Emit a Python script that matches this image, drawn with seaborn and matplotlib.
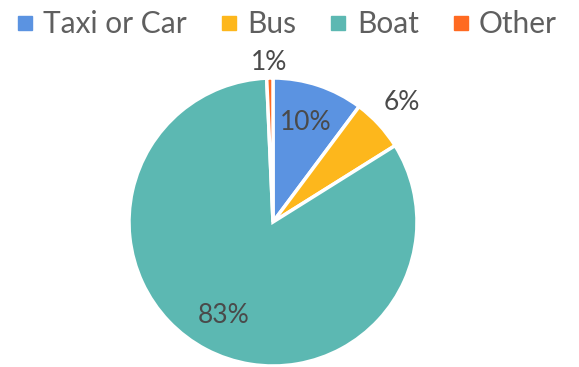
import numpy as np
import matplotlib
matplotlib.use("Agg")
import matplotlib.pyplot as plt
from matplotlib.lines import Line2D
import seaborn as sns

categories = ["Taxi or Car", "Bus", "Boat", "Other"]
values = [10.2, 5.9, 83.2, 0.7]
colors = ["#5B93E1", "#FDB71C", "#5CB8B2", "#FF6A21"]

sns.set_theme(style="white")
plt.rcParams['font.family'] = ['Lato', 'DejaVu Sans']

W, H = 579, 367
fig = plt.figure(figsize=(W / 100, H / 100), dpi=100)
cx, cy, r = 273, 145, 144
ax = fig.add_axes([(cx - r) / W, (cy - r) / H, 2 * r / W, 2 * r / H])

wedges, texts, autotexts = ax.pie(
    values, colors=colors, startangle=90, counterclock=False,
    autopct=lambda p: f"{p:.0f}%", pctdistance=0.73,
    wedgeprops=dict(edgecolor="white", linewidth=2.5),
    textprops=dict(color="#4a4a4a", fontsize=19))
ax.set_xlim(-1, 1)
ax.set_ylim(-1, 1)
ax.set_aspect("equal")
ax.axis("off")

# move small slices' labels outside
outside = {1: 1.22, 3: 1.11}
for i, w in enumerate(wedges):
    if i in outside:
        ang = np.deg2rad((w.theta1 + w.theta2) / 2)
        d = outside[i]
        autotexts[i].set_position((d * np.cos(ang), d * np.sin(ang)))

handles = [Line2D([0], [0], marker="s", linestyle="", markersize=10,
                  markerfacecolor=c, markeredgecolor=c) for c in colors]
fig.legend(handles, categories, loc="upper center", bbox_to_anchor=(0.493, 1.045),
           ncol=4, frameon=False, handletextpad=0.24, handlelength=0.75,
           columnspacing=1.03, labelcolor="#5f5f5f",
           prop=dict(family=['Lato', 'DejaVu Sans'], size=21.5))

fig.savefig("out.png", dpi=100)
